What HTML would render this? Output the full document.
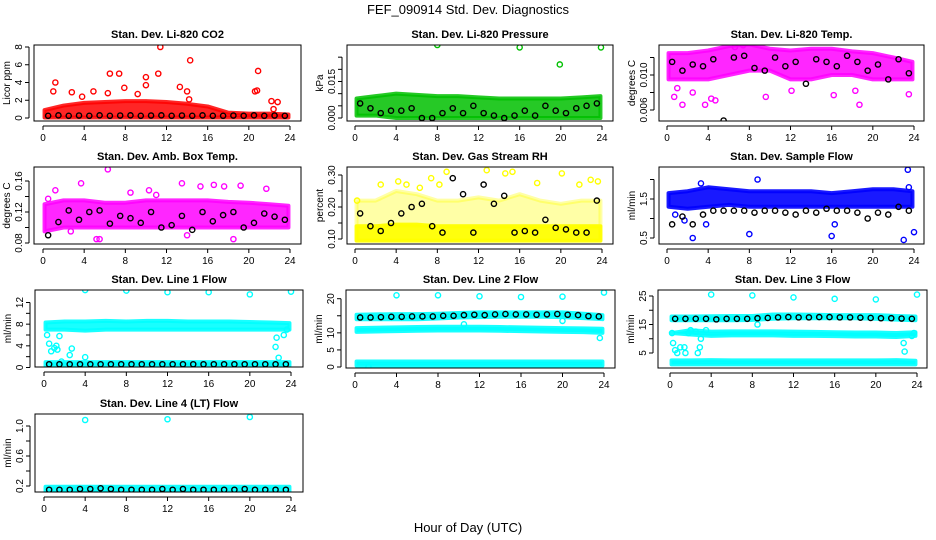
<!DOCTYPE html>
<html><head><meta charset="utf-8"><style>
body{margin:0;background:#fff}
svg{display:block;font-family:"Liberation Sans",sans-serif}
</style></head><body>
<svg id="chart" width="936" height="540" viewBox="0 0 936 540">
<rect x="0" y="0" width="936" height="540" fill="#fff"/>
<text x="468" y="14" font-size="13" text-anchor="middle">FEF_090914  Std. Dev. Diagnostics</text>
<text x="468" y="532" font-size="13" text-anchor="middle">Hour of Day (UTC)</text>
</svg>
<script>
// ---------- data ----------
const bandHours = [0,2,4,6,8,10,12,14,16,18,20,22,24];
const blackHours = [0.5,1.5,2.5,3.5,4.5,5.5,6.5,7.5,8.5,9.5,10.5,11.5,12.5,13.5,14.5,15.5,16.5,17.5,18.5,19.5,20.5,21.5,22.5,23.5];
const xTicks = [0,4,8,12,16,20,24];

// P1 CO2
const co2BandLo = [0.05,0.05,0.05,0.05,0.05,0.05,0.05,0.05,0.05,0.05,0.05,0.05,0.05];
const co2BandHi = [0.9,1.4,1.7,1.8,1.9,1.9,1.8,1.6,1.3,0.6,0.5,0.5,0.4];
const co2OutX = [1.2,1.0,6.5,7.4,10.0,10.0,11.4,11.2,13.3,14.3,14.0,14.2,20.9,20.8,20.6,22.2,22.8,22.4,7.9,4.9,2.8,3.8,6.3,9.2];
const co2OutY = [4.0,3.0,5.0,5.0,4.6,3.7,8.0,5.0,3.5,6.5,3.0,2.1,5.3,3.1,3.0,1.9,1.8,1.0,3.4,3.0,2.9,2.4,2.8,2.7];
const co2BlackY = [0.25,0.3,0.25,0.28,0.25,0.3,0.25,0.28,0.3,0.25,0.28,0.3,0.25,0.28,0.25,0.3,0.25,0.25,0.28,0.25,0.3,0.25,0.28,0.25];
// P2 pressure
const presBandLo = [0.001,0.001,0,0,0,0,0,0,0,0,0,0,0];
const presBandHi = [0.008,0.009,0.010,0.0095,0.009,0.009,0.0085,0.008,0.008,0.008,0.008,0.0085,0.009];
const presOutX = [8.0,16.0,23.9,19.9];
const presOutY = [0.030,0.029,0.029,0.022];
const presBlackY = [0.006,0.004,0.002,0.003,0.003,0.004,0,0,0.002,0.004,0.002,0.005,0.002,0.001,0,0.001,0.003,0.001,0.005,0.003,0.002,0.004,0.005,0.006];
// P3 Li-820 temp
const ltBandLo = [0.0095,0.0095,0.0095,0.010,0.0105,0.0105,0.0095,0.0095,0.010,0.010,0.0095,0.0095,0.0095];
const ltBandHi = [0.0125,0.0125,0.0128,0.0133,0.0135,0.013,0.0128,0.013,0.013,0.0127,0.0125,0.012,0.0115];
const ltOutX = [0.7,1.5,3.7,4.3,4.7,9.6,16.2,18.7,2.5,1.0,6.6,7.4,12.1,18.3,23.5];
const ltOutY = [0.0075,0.0066,0.0066,0.0073,0.0071,0.0075,0.0077,0.0066,0.008,0.0085,0.0132,0.0134,0.0082,0.0082,0.0078];
const ltBlackY = [0.0115,0.0105,0.0112,0.011,0.0118,0.0048,0.012,0.0122,0.0108,0.0105,0.012,0.011,0.0115,0.009,0.0118,0.0115,0.011,0.0122,0.0115,0.0105,0.0112,0.0095,0.0118,0.0102];
// P4 amb box temp
const abBandLo = [0.095,0.1,0.1,0.1,0.1,0.1,0.1,0.1,0.1,0.1,0.1,0.1,0.1];
const abBandHi = [0.13,0.135,0.135,0.132,0.132,0.135,0.135,0.135,0.135,0.133,0.132,0.13,0.128];
const abOutX = [6.3,3.7,1.2,10.3,13.5,15.3,16.6,17.6,19.2,21.7,0.5,5.2,5.5,18.5,14.0,2.7,8.5,11.0];
const abOutY = [0.175,0.157,0.148,0.148,0.157,0.153,0.155,0.153,0.154,0.15,0.137,0.085,0.085,0.085,0.09,0.095,0.145,0.142];
const abBlackY = [0.09,0.107,0.122,0.11,0.12,0.122,0.105,0.115,0.112,0.106,0.12,0.1,0.103,0.115,0.097,0.12,0.108,0.116,0.12,0.1,0.106,0.118,0.114,0.11];
// P5 RH
const rhBandLo = [0.095,0.095,0.095,0.095,0.095,0.095,0.095,0.095,0.095,0.095,0.095,0.095,0.095];
const rhBandHi = [0.14,0.14,0.145,0.145,0.14,0.14,0.14,0.14,0.14,0.14,0.14,0.14,0.14];
const rhSparseLo = [0.14,0.14,0.14,0.14,0.14,0.14,0.14,0.14,0.14,0.14,0.14,0.14,0.14];
const rhSparseHi = [0.22,0.22,0.25,0.24,0.22,0.22,0.23,0.22,0.24,0.22,0.21,0.22,0.22];
const rhOutX = [0.2,2.5,4.2,5.0,7.4,8.9,8.2,12.8,14.6,15.3,17.7,20.1,21.8,22.9,23.6,6.3];
const rhOutY = [0.22,0.27,0.28,0.27,0.29,0.31,0.27,0.315,0.305,0.31,0.275,0.305,0.27,0.285,0.28,0.26];
const rhBlackY = [0.18,0.14,0.125,0.15,0.18,0.2,0.21,0.14,0.12,0.29,0.24,0.12,0.27,0.21,0.235,0.12,0.125,0.12,0.16,0.135,0.13,0.12,0.12,0.22];
// P6 sample flow
const sfBandLo = [1.3,1.25,1.3,1.35,1.3,1.3,1.3,1.3,1.3,1.3,1.3,1.3,1.3];
const sfBandHi = [1.65,1.7,1.8,1.75,1.7,1.7,1.7,1.7,1.65,1.7,1.75,1.75,1.7];
const sfOutX = [2.5,3.8,8.0,8.8,16.0,16.3,23.0,23.4,23.5,24.0,1.7,0.8,3.3];
const sfOutY = [0.5,0.85,0.6,2.0,0.55,0.85,0.45,2.25,1.8,0.65,0.95,1.1,1.9];
const sfBlackY = [0.85,1.05,0.85,1.1,1.2,1.2,1.2,1.2,1.15,1.2,1.2,1.15,1.1,1.2,1.15,1.25,1.2,1.2,1.15,1.0,1.15,1.1,1.3,1.2];
// P7 Line 1
const l1BandHiLo = [7,7,6.8,7,7,7,7,7,7,7,7,7,7];
const l1BandHiHi = [8.3,8.5,8.5,8.6,8.5,8.6,8.6,8.5,8.5,8.5,8.4,8.3,8.2];
const l1BandLowLo = [0.3,0.3,0.3,0.3,0.3,0.3,0.3,0.3,0.3,0.3,0.3,0.3,0.3];
const l1BandLowHi = [1.0,1.0,1.0,1.0,1.0,1.0,1.0,1.0,1.0,1.0,1.0,1.0,1.0];
const l1OutX = [4,8,12,16,20,24,0.3,0.5,0.7,1.0,1.2,1.3,1.5,2.5,2.7,1.7,4.0,22.5,22.6,22.8,23.3,23.6];
const l1OutY = [14.3,14.2,13.9,13.9,13.5,14.0,6.0,4.4,3.0,3.6,4.0,3.3,5.8,2.3,3.5,1.1,1.9,3.8,5.5,1.8,6.0,7.0];
const l1BlackY = [0.6,0.6,0.6,0.6,0.6,0.6,0.6,0.6,0.6,0.6,0.6,0.6,0.6,0.6,0.6,0.6,0.6,0.6,0.6,0.6,0.6,0.6,0.6,0.6];
// P8 Line 2
const l2BandTopLo = [14,14,14,14,14.2,14.5,14.6,14.7,14.7,14.7,14.6,14.3,14];
const l2BandTopHi = [15.3,15.4,15.5,15.5,15.6,15.8,16,16,16,16,16,15.6,15.2];
const l2BandMidLo = [10.3,10.4,10.5,10.6,10.7,10.7,10.7,10.6,10.5,10.4,10.3,10.2,10];
const l2BandMidHi = [11.4,11.5,11.6,11.7,11.8,11.8,11.8,11.7,11.6,11.5,11.4,11.3,11.2];
const l2BandLowLo = [0.4,0.4,0.4,0.4,0.4,0.4,0.4,0.4,0.4,0.4,0.4,0.4,0.4];
const l2BandLowHi = [1.6,1.6,1.6,1.6,1.6,1.6,1.6,1.6,1.6,1.6,1.6,1.6,1.6];
const l2OutX = [4,8,12,16,20,24,23.6,20,10.5,1.3];
const l2OutY = [21,21,20.7,20.5,20.6,21.8,8.5,13.5,12.5,0];
const l2BlackY = [14.5,14.5,14.6,14.7,14.7,14.8,14.8,14.8,15,15,15.2,15.3,15.2,15.4,15.5,15.4,15.4,15.3,15.4,15.5,15.3,15.2,14.9,14.8];
// P9 Line 3
const l3BandTopLo = [16.5,16.5,16.5,16.5,16.6,17,17.2,17.2,17.2,17.2,17,16.7,16.5];
const l3BandTopHi = [17.8,17.8,17.9,18,18,18.5,18.5,18.4,18.3,18.3,18.3,18,17.8];
const l3BandMidLo = [12,11.5,11,11.2,11.2,11.2,11,11,10.9,10.8,10.8,10.6,11];
const l3BandMidHi = [12,13,12.5,12.6,12.6,12.6,12.5,12.4,12.3,12.2,12.2,12,12.3];
const l3BandLowLo = [1,1,1,1,1,1,1,1,1,1,1,1,1];
const l3BandLowHi = [2.4,2.4,2.5,2.4,2.4,2.4,2.4,2.4,2.4,2.4,2.4,2.5,2.3];
const l3OutX = [4,8,12,16,20,24,0.2,0.3,0.5,0.7,1.0,1.4,1.5,1.8,2.0,2.5,2.7,2.9,3.0,3.5,22.7,22.8,23.5,23.7,8.5];
const l3OutY = [25.5,25.2,24.5,24,23.8,25.5,12,8.5,6,5,7,7,5,12,13,12.5,5,7,10,13,8.5,5.5,11,12,15];
const l3BlackY = [17,17,17,17,16.8,17,17,17,17.2,17.3,17.5,17.6,17.5,17.5,17.6,17.6,17.5,17.5,17.4,17.3,17.2,17.2,17.1,17];
// P10 Line 4
const l4BandLo = [0.12,0.12,0.12,0.12,0.12,0.12,0.12,0.12,0.12,0.12,0.12,0.12,0.12];
const l4BandHi = [0.19,0.19,0.19,0.19,0.19,0.19,0.19,0.19,0.19,0.19,0.19,0.19,0.19];
const l4OutX = [4,12,20];
const l4OutY = [1.08,1.09,1.12];
const l4BlackY = [0.15,0.15,0.15,0.16,0.16,0.17,0.16,0.15,0.15,0.15,0.15,0.16,0.15,0.16,0.15,0.15,0.15,0.15,0.15,0.16,0.15,0.15,0.15,0.15];

// ---------- panel geometry ----------
const panels = [
 {name:'co2',title:'Stan. Dev. Li-820 CO2',ylab:'Licor ppm',L:34,R:301,T:45,B:121,x0:43,x24:290,ya:[0,118],yb:[8,47],ticks:[0,2,4,6,8],labels:['0','2','4','6','8'],color:'#ff0000',
  bands:[[co2BandLo,co2BandHi,0.85]],outX:co2OutX,outY:co2OutY,blackY:co2BlackY},
 {name:'pressure',title:'Stan. Dev. Li-820 Pressure',ylab:'kPa',L:347,R:613,T:45,B:121,x0:355,x24:602,ya:[0,118],yb:[0.015,81.5],ticks:[0,0.005,0.01,0.015,0.02,0.025],labels:['0.000','','','0.015','',''],color:'#00c000',
  bands:[[presBandLo,presBandHi,0.85]],outX:presOutX,outY:presOutY,blackY:presBlackY},
 {name:'li820-temp',title:'Stan. Dev. Li-820 Temp.',ylab:'degrees C',L:659,R:924,T:45,B:121,x0:667,x24:914,ya:[0.006,110],yb:[0.010,75],ticks:[0.006,0.008,0.010,0.012],labels:['0.006','','0.010',''],color:'#ff00ff',
  bands:[[ltBandLo,ltBandHi,0.85]],outX:ltOutX,outY:ltOutY,blackY:ltBlackY},
 {name:'amb-box-temp',title:'Stan. Dev. Amb. Box Temp.',ylab:'degrees C',L:34,R:301,T:167,B:244,x0:43,x24:290,ya:[0.08,243],yb:[0.16,181],ticks:[0.08,0.10,0.12,0.14,0.16],labels:['0.08','','0.12','','0.16'],color:'#ff00ff',
  bands:[[abBandLo,abBandHi,0.85]],outX:abOutX,outY:abOutY,blackY:abBlackY},
 {name:'gas-stream-rh',title:'Stan. Dev. Gas Stream RH',ylab:'percent',L:347,R:613,T:167,B:244,x0:355,x24:602,ya:[0.10,239],yb:[0.30,175],ticks:[0.10,0.15,0.20,0.25,0.30],labels:['0.10','','0.20','','0.30'],color:'#ffff00',
  bands:[[rhBandLo,rhBandHi,0.95],[rhSparseLo,rhSparseHi,0.35]],outX:rhOutX,outY:rhOutY,blackY:rhBlackY},
 {name:'sample-flow',title:'Stan. Dev. Sample Flow',ylab:'ml/min',L:659,R:924,T:167,B:244,x0:667,x24:914,ya:[0.5,238],yb:[1.5,199],ticks:[0.5,1.0,1.5,2.0],labels:['0.5','','1.5',''],color:'#0000ff',
  bands:[[sfBandLo,sfBandHi,0.9]],outX:sfOutX,outY:sfOutY,blackY:sfBlackY},
 {name:'line1-flow',title:'Stan. Dev. Line 1 Flow',ylab:'ml/min',L:35,R:303,T:290,B:367,x0:44,x24:291,ya:[0,367.5],yb:[12,302.5],ticks:[0,2,4,6,8,10,12],labels:['0','','4','','8','','12'],color:'#00ffff',
  bands:[[l1BandHiLo,l1BandHiHi,0.9],[l1BandLowLo,l1BandLowHi,0.9]],outX:l1OutX,outY:l1OutY,blackY:l1BlackY},
 {name:'line2-flow',title:'Stan. Dev. Line 2 Flow',ylab:'ml/min',L:346,R:615,T:290,B:368,x0:355,x24:604,ya:[0,367],yb:[20,298.7],ticks:[0,5,10,15,20],labels:['0','5','10','','20'],color:'#00ffff',
  bands:[[l2BandTopLo,l2BandTopHi,0.9],[l2BandMidLo,l2BandMidHi,0.9],[l2BandLowLo,l2BandLowHi,0.9]],outX:l2OutX,outY:l2OutY,blackY:l2BlackY},
 {name:'line3-flow',title:'Stan. Dev. Line 3 Flow',ylab:'ml/min',L:658,R:927,T:290,B:368,x0:670,x24:917,ya:[5,353],yb:[25,296],ticks:[5,10,15,20,25],labels:['5','','15','','25'],color:'#00ffff',
  bands:[[l3BandTopLo,l3BandTopHi,0.9],[l3BandMidLo,l3BandMidHi,0.9],[l3BandLowLo,l3BandLowHi,0.9]],outX:l3OutX,outY:l3OutY,blackY:l3BlackY},
 {name:'line4-flow',title:'Stan. Dev. Line 4 (LT) Flow',ylab:'ml/min',L:35,R:303,T:414,B:492,x0:44,x24:291,ya:[0.2,486],yb:[1.0,426],ticks:[0.2,0.4,0.6,0.8,1.0],labels:['0.2','','0.6','','1.0'],color:'#00ffff',
  bands:[[l4BandLo,l4BandHi,0.9]],outX:l4OutX,outY:l4OutY,blackY:l4BlackY}
];

const NS='http://www.w3.org/2000/svg';
const svg=document.getElementById('chart');
function mk(tag,attrs,parent){const e=document.createElementNS(NS,tag);for(const k in attrs)e.setAttribute(k,attrs[k]);parent.appendChild(e);return e;}

panels.forEach(p=>{
  const g=mk('g',{},svg);
  
  
  const xs=h=>p.x0+(p.x24-p.x0)*h/24;
  const ys=v=>p.ya[1]+(v-p.ya[0])*(p.yb[1]-p.ya[1])/(p.yb[0]-p.ya[0]);
  const clip='clip-'+p.name;
  const cp=mk('clipPath',{id:clip},g);
  mk('rect',{x:p.L,y:p.T,width:p.R-p.L,height:p.B-p.T},cp);
  const plot=mk('g',{'clip-path':'url(#'+clip+')'},g);
  
  
  // bands (dense point clouds)
  p.bands.forEach(b=>{
    const lo=b[0],hi=b[1];
    let d='';
    bandHours.forEach((h,i)=>{d+=(i?'L':'M')+xs(Math.max(0.15,Math.min(23.85,h)))+','+ys(hi[i]);});
    for(let i=bandHours.length-1;i>=0;i--){d+='L'+xs(Math.max(0.15,Math.min(23.85,bandHours[i])))+','+ys(lo[i]);}
    const band=mk('path',{d:d+'Z',fill:p.color,'fill-opacity':b[2],stroke:p.color,'stroke-width':4,'stroke-opacity':b[2],'stroke-linejoin':'round'},plot);
    
    
  });
  p.outX.forEach((x,i)=>{
    const c=mk('circle',{cx:xs(x),cy:ys(p.outY[i]),r:2.6,fill:'none',stroke:p.color,'stroke-width':1.4},plot);
    
    
  });
  blackHours.forEach((x,i)=>{
    const c=mk('circle',{cx:xs(x),cy:ys(p.blackY[i]),r:2.6,fill:'none',stroke:'#000','stroke-width':1.4},plot);
    
    
  });
  // box
  const box=mk('rect',{x:p.L,y:p.T,width:p.R-p.L,height:p.B-p.T,fill:'none',stroke:'#000','stroke-width':1},g);
  
  
  // title
  const t=mk('text',{x:(p.L+p.R)/2,y:p.T-7,'font-size':11,'font-weight':'bold','text-anchor':'middle'},g);
  t.textContent=p.title;
  
  
  // x axis
  mk('line',{x1:xs(0),x2:xs(24),y1:p.B+5,y2:p.B+5,stroke:'#000'},g);
  xTicks.forEach(h=>{
    mk('line',{x1:xs(h),x2:xs(h),y1:p.B+5,y2:p.B+9,stroke:'#000'},g);
    const tl=mk('text',{x:xs(h),y:p.B+20,'font-size':10,'text-anchor':'middle'},g);
    tl.textContent=h;
    
    
  });
  // y axis
  const ax=p.L-5;
  mk('line',{x1:ax,x2:ax,y1:ys(p.ticks[0]),y2:ys(p.ticks[p.ticks.length-1]),stroke:'#000'},g);
  p.ticks.forEach((v,i)=>{
    mk('line',{x1:ax,x2:ax-4,y1:ys(v),y2:ys(v),stroke:'#000'},g);
    if(p.labels[i]){
      const yl=mk('text',{x:0,y:0,'font-size':10,'text-anchor':'middle',transform:'translate('+(ax-7)+','+ys(v)+') rotate(-90)'},g);
      yl.textContent=p.labels[i];
      
      
    }
  });
  const yt=mk('text',{x:0,y:0,'font-size':10,'text-anchor':'middle',transform:'translate('+(p.L-24)+','+((p.T+p.B)/2)+') rotate(-90)'},g);
  yt.textContent=p.ylab;
  
  
});
</script>
</body></html>
